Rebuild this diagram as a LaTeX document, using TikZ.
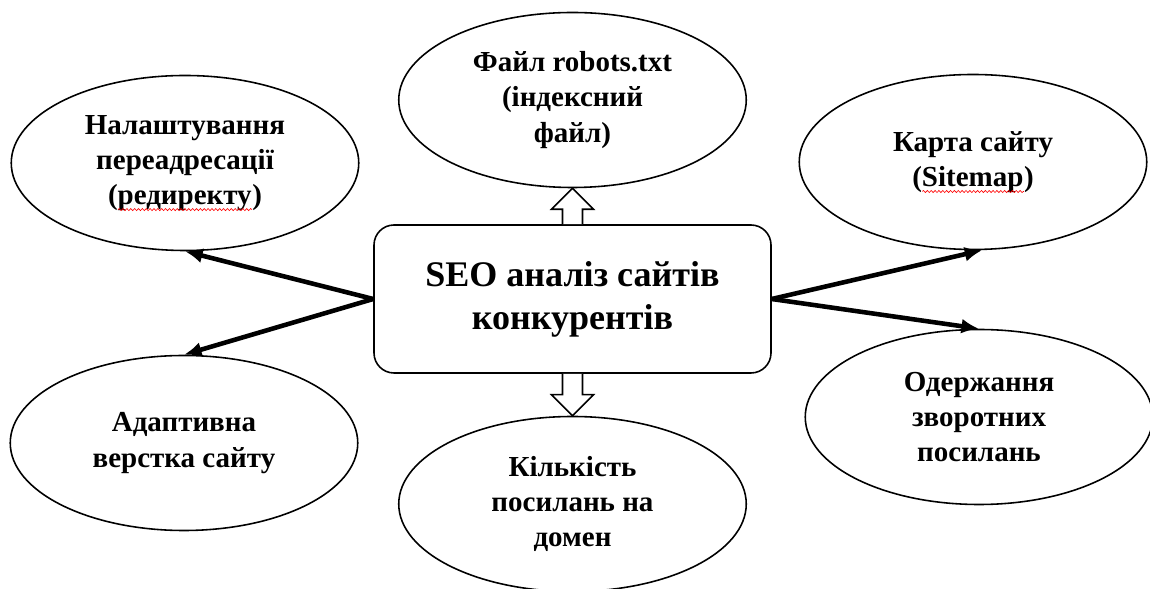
\documentclass[tikz,border=0pt]{standalone}
\usepackage{fontspec}
\setmainfont{Liberation Serif}
\usepackage{tikz}
\usetikzlibrary{shapes,positioning,calc}
\usetikzlibrary{shapes.geometric}
\usetikzlibrary{arrows.meta}
\usetikzlibrary{decorations.pathmorphing}
\tikzstyle{oval} = [ellipse, minimum width=6.95cm, minimum height=3.5cm, text centered, align=center, draw=black, line width=0.9pt, font=\bfseries\fontsize{16.5}{20}\selectfont]
\tikzstyle{blok} = [rectangle, rounded corners=0.4cm, minimum width=7.94cm, minimum height=2.96cm, text centered, align=center, draw=black, line width=0.9pt, font=\bfseries\fontsize{20.5}{24.5}\selectfont]
\tikzstyle{strilka} = [line width=2.6pt,-{Latex[length=10pt,width=8.5pt]}]
\tikzstyle{porozhnia} = [draw=black, fill=white, line width=0.9pt, line join=miter]
% червона хвиляста лінія під словом
\newsavebox{\slovo}
\newcommand{\khvylia}[1]{\sbox{\slovo}{#1}\rlap{\usebox{\slovo}}\tikz[baseline=3pt]\draw[red, line width=0.35pt, decorate, decoration={snake, amplitude=0.6pt, segment length=2.2pt}] (0,0) -- (\the\wd\slovo,0);}

\begin{document}
\begin{tikzpicture}
						\useasboundingbox (0,0) rectangle (23,11.78);
						\node (seo) at (11.45,5.80) [blok] {SEO аналіз сайтів\\конкурентів};
						\node (robots) at (11.45,9.78) [oval] {Файл robots.txt\\(індексний\\файл)};
						\node (redirect) at (3.70,8.52) [oval] {Налаштування\\переадресації\\(\khvylia{редиректу})};
						\node (mapa) at (19.46,8.54) [oval] {Карта сайту\\(\khvylia{Sitemap})};
						\node (adapt) at (3.68,2.92) [oval] {Адаптивна\\верстка сайту};
						\node (domen) at (11.45,1.70) [oval] {Кількість\\посилань на\\домен};
						\node (zvorot) at (19.58,3.44) [oval] {Одержання\\зворотних\\посилань};
						\draw [strilka] (seo.west) -- (redirect.south);
						\draw [strilka] (seo.west) -- (adapt.north);
						\draw [strilka] (seo.east) -- (mapa.-84);
						\draw [strilka] (seo.east) -- (zvorot.north);
						% порожні стрілки вгору і вниз
						\draw [porozhnia] ($(seo.north)+(-0.2,0)$) -- ($(robots.south)+(-0.2,-0.42)$) -- ($(robots.south)+(-0.42,-0.42)$) -- (robots.south) -- ($(robots.south)+(0.42,-0.42)$) -- ($(robots.south)+(0.2,-0.42)$) -- ($(seo.north)+(0.2,0)$);
						\draw [porozhnia] ($(seo.south)+(-0.2,0)$) -- ($(domen.north)+(-0.2,0.42)$) -- ($(domen.north)+(-0.42,0.42)$) -- (domen.north) -- ($(domen.north)+(0.42,0.42)$) -- ($(domen.north)+(0.2,0.42)$) -- ($(seo.south)+(0.2,0)$);
					\end{tikzpicture}
\end{document}
